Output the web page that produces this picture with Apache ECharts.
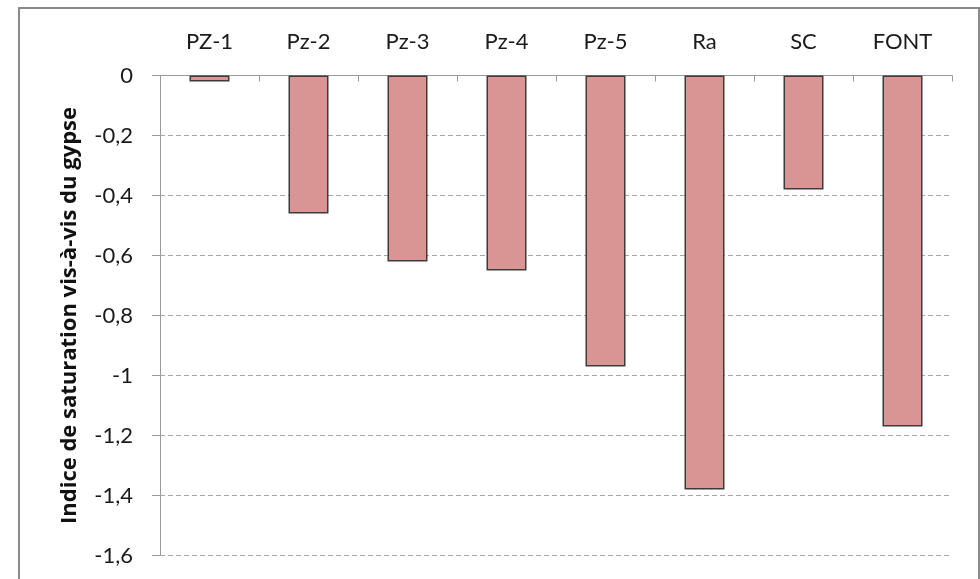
<!DOCTYPE html>
<html>
<head>
<meta charset="utf-8">
<script src="https://cdn.jsdelivr.net/npm/echarts@6/dist/echarts.min.js"></script>
<style>
  html, body { margin: 0; padding: 0; background: #fff; }
  #chart { width: 980px; height: 579px; }
</style>
</head>
<body>
<div id="chart"></div>
<script>
// Sampling points and gypsum saturation index
const categories = ['PZ-1', 'Pz-2', 'Pz-3', 'Pz-4', 'Pz-5', 'Ra', 'SC', 'FONT'];
const saturationIndex = [-0.02, -0.46, -0.62, -0.65, -0.97, -1.38, -0.38, -1.17];
const yTicks = { min: -1.6, max: 0, step: 0.2 };
const yTitle = 'Indice de saturation vis-à-vis du gypse';

const FONT = 'Lato, "Open Sans", sans-serif';
const TITLE_FONT = '"Open Sans", "Noto Sans", sans-serif';
const fmt = v => String(Math.round(v * 10) / 10).replace('.', ',');

const chart = echarts.init(document.getElementById('chart'), null, { renderer: 'canvas' });
chart.setOption({
  backgroundColor: '#ffffff',
  animation: false,
  graphic: [{
    type: 'rect',
    shape: { x: 19, y: 8, width: 960, height: 620 },
    style: { fill: 'none', stroke: '#8a8a8a', lineWidth: 2 },
    silent: true
  }],
  grid: { left: 160, right: 28, top: 75.5, bottom: 23.5 },
  xAxis: {
    type: 'category',
    data: categories,
    position: 'top',
    axisLine: { show: true, lineStyle: { color: '#9a9a9a', width: 1 } },
    axisTick: { show: true, inside: true, length: 6, lineStyle: { color: '#9a9a9a' } },
    axisLabel: { color: '#1a1a1a', fontSize: 22, fontFamily: FONT, margin: 23 },
    splitLine: { show: false }
  },
  yAxis: {
    type: 'value',
    min: yTicks.min,
    max: yTicks.max,
    interval: yTicks.step,
    name: yTitle,
    nameLocation: 'middle',
    nameGap: 79,
    nameRotate: 90,
    nameTextStyle: { color: '#111', fontSize: 22, fontWeight: 'bold', fontFamily: TITLE_FONT },
    axisLine: { show: true, lineStyle: { color: '#9a9a9a', width: 1 } },
    axisTick: { show: true, inside: false, length: 8, lineStyle: { color: '#9a9a9a' } },
    axisLabel: { color: '#1a1a1a', fontSize: 22, fontFamily: FONT, margin: 27, formatter: fmt },
    splitLine: { show: true, lineStyle: { color: '#a6a6a6', type: [5, 3], width: 1 } }
  },
  series: [{
    type: 'bar',
    data: saturationIndex,
    barWidth: 40,
    itemStyle: { color: '#d99594', borderColor: '#3f3a3a', borderWidth: 1.5 }
  }]
});
</script>
</body>
</html>
